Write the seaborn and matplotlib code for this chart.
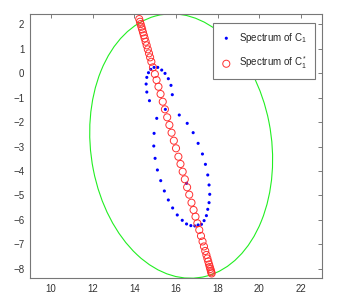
import matplotlib
matplotlib.use("Agg")
import matplotlib.pyplot as plt
from matplotlib.patches import Ellipse
import seaborn as sns
import numpy as np

#%% data
# spectrum of C_1 (blue dots)
blue_x = [14.683, 14.794, 14.952, 15.127, 15.317, 15.476, 15.635, 15.762, 15.825,
          16.159, 16.540, 16.825, 17.063, 17.270, 17.413, 17.524, 17.587, 17.619,
          17.587, 17.524, 17.460, 17.349, 17.222, 17.063, 16.905, 16.714, 16.508,
          16.302, 16.063, 15.841, 15.635, 15.444, 15.270, 15.111, 15.000, 14.937,
          14.952, 15.079, 14.730, 14.603, 14.571, 14.603, 15.492, 16.508]
blue_y = [0.014, 0.150, 0.231, 0.231, 0.122, -0.014, -0.231, -0.503, -0.884,
          -1.714, -2.054, -2.435, -2.871, -3.306, -3.728, -4.163, -4.571, -4.952,
          -5.293, -5.565, -5.823, -6.027, -6.177, -6.204, -6.245, -6.231, -6.163,
          -6.014, -5.796, -5.510, -5.184, -4.816, -4.395, -3.959, -3.483, -2.980,
          -2.463, -1.850, -1.129, -0.776, -0.449, -0.177, -1.483, -4.503]

# spectrum of C_1^* (red circles)
red_x = [14.239, 14.275, 14.307, 14.344, 14.379, 14.420, 14.461, 14.502, 14.548,
         14.597, 14.652, 14.707, 14.761, 14.821, 14.898, 14.989, 15.071, 15.162,
         15.262, 15.367, 15.471, 15.580, 15.685, 15.790, 15.899, 16.003, 16.117,
         16.217, 16.322, 16.426, 16.535, 16.636, 16.745, 16.845, 16.936, 17.026,
         17.118, 17.200, 17.275, 17.343, 17.404, 17.459, 17.507, 17.548, 17.588,
         17.622, 17.650, 17.674, 17.695, 17.711]
red_y = [2.204, 2.094, 2.000, 1.890, 1.784, 1.661, 1.539, 1.416, 1.278,
         1.131, 0.967, 0.804, 0.641, 0.461, 0.233, -0.041, -0.286, -0.559,
         -0.857, -1.171, -1.482, -1.808, -2.122, -2.437, -2.763, -3.073, -3.416,
         -3.714, -4.029, -4.339, -4.665, -4.967, -5.294, -5.592, -5.865, -6.135,
         -6.408, -6.653, -6.878, -7.082, -7.265, -7.429, -7.571, -7.694, -7.816,
         -7.918, -8.000, -8.073, -8.135, -8.184]

# green ellipse (center, semi axes, tilt in degrees)
ell_center = (16.25, -2.98)
ell_semi_x = 4.32
ell_semi_y = 5.45
ell_angle = 13

xticks = [10, 12, 14, 16, 18, 20, 22]
yticks = [2, 1, 0, -1, -2, -3, -4, -5, -6, -7, -8]

#%% plot
sns.set_theme(style="white")
plt.rcParams['font.family'] = ['Liberation Sans', 'DejaVu Sans']
plt.rcParams['mathtext.fontset'] = 'custom'
plt.rcParams['mathtext.rm'] = 'Liberation Sans'

fig = plt.figure(figsize=(3.4, 3.05), dpi=100)
fig.patch.set_facecolor('white')
ax = fig.add_axes([0.088, 0.0885, 0.859, 0.8655])

ell = Ellipse(ell_center, width=2 * ell_semi_x, height=2 * ell_semi_y, angle=ell_angle,
              facecolor='none', edgecolor='#22ee22', linewidth=0.8, zorder=1)
ax.add_patch(ell)

sns.scatterplot(x=blue_x, y=blue_y, ax=ax, color='#0000ff', s=5, marker='o',
                edgecolor='none', label=r'Spectrum of $\mathregular{C_1}$', zorder=2)
sns.scatterplot(x=red_x, y=red_y, ax=ax, s=26, marker='o', facecolor='none',
                edgecolor='#ff3030', linewidth=0.7,
                label=r'Spectrum of $\mathregular{C_1^*}$', zorder=3)

ax.set_xlim(9, 23)
ax.set_ylim(-8.37, 2.41)
ax.set_xticks(xticks)
ax.set_yticks(yticks)
ax.tick_params(direction='in', length=3, width=0.6, color='#666666',
               labelsize=7, labelcolor='#333333', top=True, right=True,
               labeltop=False, labelright=False, pad=4)
for sp in ax.spines.values():
    sp.set_color('#777777')
    sp.set_linewidth(0.8)

leg = ax.legend(loc='upper right', bbox_to_anchor=(0.976, 0.966), borderaxespad=0,
                fontsize=7, fancybox=False, framealpha=1, edgecolor='#777777',
                labelspacing=1.0, handlelength=1.2, handletextpad=0.7, borderpad=0.8)
leg.get_frame().set_linewidth(0.8)

plt.savefig("out.png", dpi=100)
